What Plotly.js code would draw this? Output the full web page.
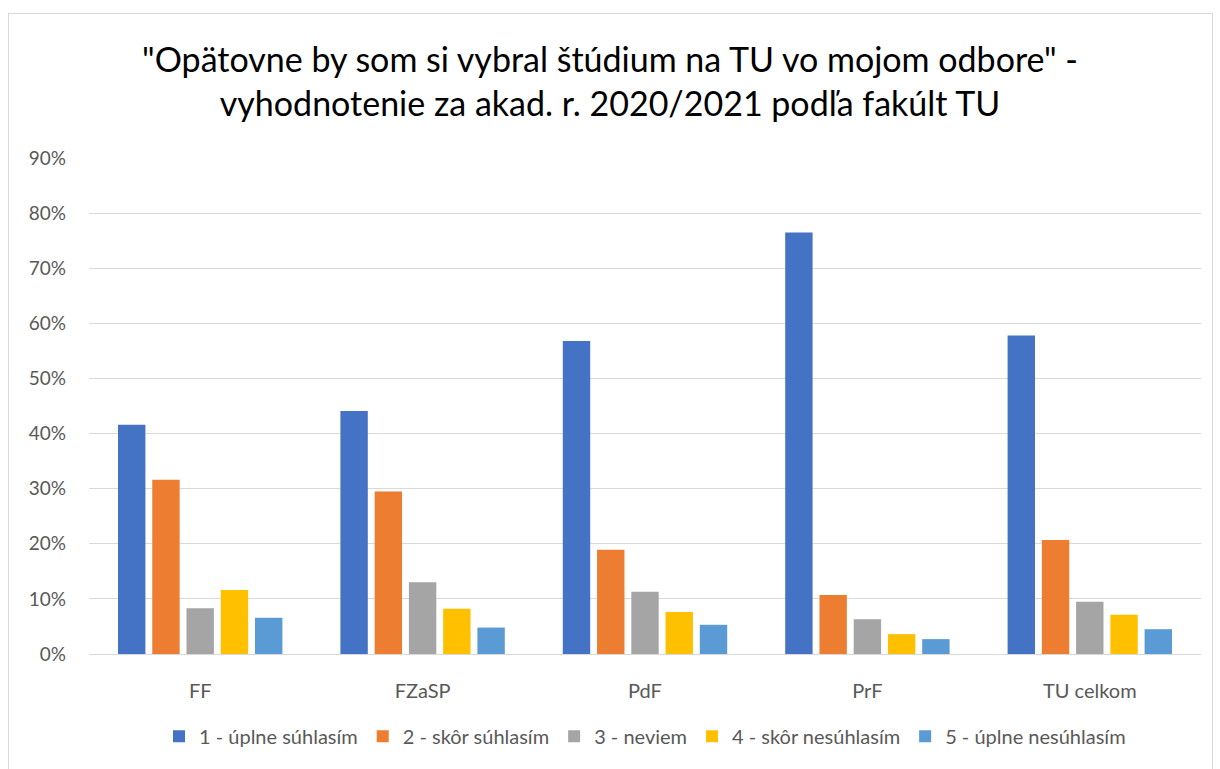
<!DOCTYPE html>
<html>
<head>
<meta charset="utf-8">
<script src="https://cdn.plot.ly/plotly-3.0.1.min.js"></script>
<style>
  html, body { margin: 0; padding: 0; background: #fff; }
  #chart { width: 1220px; height: 769px; position: absolute; left: 0; top: 0; }
  #frame { position: absolute; left: 8px; top: 13px; width: 1205px; height: 770px;
           border: 1.5px solid #d9d9d9; pointer-events: none; box-sizing: border-box; }
</style>
</head>
<body>
<div id="chart"></div>
<div id="frame"></div>
<script>
const categories = ["FF", "FZaSP", "PdF", "PrF", "TU celkom"];
const seriesNames = ["1 - úplne súhlasím", "2 - skôr súhlasím", "3 - neviem", "4 - skôr nesúhlasím", "5 - úplne nesúhlasím"];
const s1 = [0.416, 0.441, 0.568, 0.765, 0.578];
const s2 = [0.316, 0.295, 0.189, 0.107, 0.207];
const s3 = [0.083, 0.130, 0.113, 0.063, 0.095];
const s4 = [0.116, 0.082, 0.076, 0.036, 0.071];
const s5 = [0.066, 0.048, 0.053, 0.027, 0.045];
const colors = ["#4472C4", "#ED7D31", "#A5A5A5", "#FFC000", "#5B9BD5"];
const values = [s1, s2, s3, s4, s5];

const FONT = "Lato, 'Noto Sans', sans-serif";

const traces = values.map((v, i) => ({
  type: "bar",
  name: seriesNames[i],
  x: categories,
  y: v,
  marker: { color: colors[i], line: { width: 0 } },
  hoverinfo: "x+y+name"
}));

const layout = {
  width: 1220,
  height: 769,
  paper_bgcolor: "rgba(0,0,0,0)",
  plot_bgcolor: "#fff",
  margin: { l: 89, r: 19, t: 158, b: 115 },
  barmode: "group",
  bargap: 0.23,
  bargroupgap: 0.2,
  font: { family: FONT, color: "#595959", size: 19 },
  title: {
    text: "\"Opätovne by som si vybral štúdium na TU vo mojom odbore\" -<br>vyhodnotenie za akad. r. 2020/2021 podľa fakúlt TU",
    font: { family: FONT, size: 34, color: "#000" },
    x: 0.5, xanchor: "center",
    y: 0.906, yanchor: "middle"
  },
  xaxis: {
    type: "category",
    showgrid: false,
    showline: true,
    linecolor: "#d9d9d9",
    linewidth: 1,
    ticks: "",
    ticklabelstandoff: 19,
    tickfont: { family: FONT, size: 20, color: "#595959" },
    fixedrange: true
  },
  yaxis: {
    range: [0, 0.9],
    dtick: 0.1,
    tick0: 0,
    tickformat: ".0%",
    showgrid: true,
    gridcolor: "#d9d9d9",
    gridwidth: 1,
    zeroline: false,
    showline: false,
    ticks: "",
    ticklabelstandoff: 22,
    tickfont: { family: FONT, size: 19, color: "#595959" },
    fixedrange: true
  },
  legend: {
    orientation: "h",
    x: 0.5, xanchor: "center",
    y: -0.166, yanchor: "middle",
    font: { family: FONT, size: 20, color: "#595959" },
    itemwidth: 30,
    traceorder: "normal"
  },
  showlegend: true
};

Plotly.newPlot("chart", traces, layout, { displayModeBar: false, responsive: false });
</script>
</body>
</html>
